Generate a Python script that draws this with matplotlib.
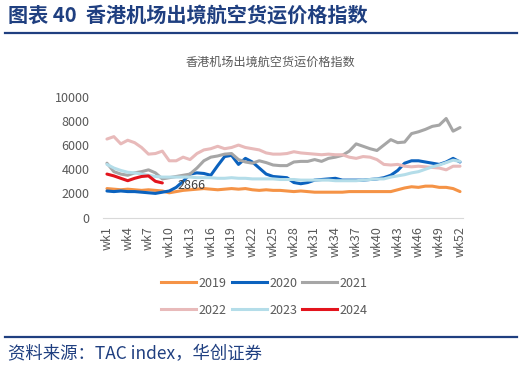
import matplotlib
matplotlib.use("Agg")
import matplotlib.pyplot as plt
from matplotlib.lines import Line2D

plt.rcParams["font.family"] = ["Noto Sans CJK SC", "DejaVu Sans"]

################# data #########################
weeks = [f"wk{i}" for i in range(1, 53)]
tick_weeks = list(range(1, 53, 3))

y2019 = [2400, 2350, 2300, 2350, 2300, 2250, 2300, 2250, 2200, 2050,
         2150, 2250, 2300, 2350, 2400, 2350, 2300, 2350, 2400, 2350,
         2400, 2300, 2250, 2300, 2250, 2250, 2200, 2150, 2200, 2150,
         2100, 2100, 2100, 2100, 2100, 2150, 2150, 2150, 2150, 2150,
         2150, 2150, 2300, 2450, 2550, 2500, 2600, 2600, 2500, 2500,
         2400, 2150]
y2020 = [2200, 2150, 2200, 2150, 2150, 2100, 2050, 2000, 2100, 2200,
         2500, 3000, 3600, 3700, 3650, 3500, 4300, 5050, 5150, 4400,
         4900, 4600, 4100, 3600, 3400, 3350, 3300, 2900, 2800, 2900,
         3100, 3150, 3200, 3250, 3100, 3100, 3100, 3100, 3150, 3200,
         3300, 3500, 3900, 4500, 4700, 4700, 4600, 4500, 4400, 4600,
         4900, 4600]
y2021 = [4500, 3800, 3600, 3500, 3700, 3800, 3950, 3700, 3200, 3300,
         3400, 3500, 3600, 4100, 4700, 5000, 5100, 5250, 5300, 4800,
         4600, 4500, 4700, 4550, 4350, 4300, 4300, 4600, 4650, 4650,
         4800, 4650, 4900, 5000, 5150, 5500, 6100, 5900, 5700, 5550,
         6000, 6450, 6200, 6250, 6950, 7100, 7300, 7550, 7650, 8200,
         7150, 7450]
y2022 = [6500, 6700, 6100, 6400, 6200, 5800, 5250, 5300, 5500, 4700,
         4700, 5000, 4800, 5300, 5600, 5700, 5900, 5700, 5800, 6000,
         5800, 5700, 5600, 5350, 5250, 5250, 5300, 5450, 5350, 5300,
         5250, 5200, 5250, 5200, 5200, 5000, 4900, 5050, 5000, 4800,
         4400, 4350, 4400, 4250, 4200, 4250, 4200, 4150, 4100, 3950,
         4250, 4250]
y2023 = [4400, 4100, 3900, 3750, 3700, 3600, 3500, 3400, 3350, 3350,
         3350, 3350, 3350, 3300, 3300, 3300, 3250, 3250, 3300, 3250,
         3250, 3200, 3200, 3200, 3200, 3150, 3150, 3150, 3100, 3100,
         3100, 3100, 3100, 3050, 3050, 3050, 3050, 3100, 3150, 3200,
         3200, 3350, 3450, 3550, 3700, 3800, 4000, 4200, 4350, 4550,
         4750, 4650]
y2024 = [3600, 3450, 3250, 3050, 3250, 3400, 3450, 3000, 2866]

series = [
    ("2019", y2019, "#F59346"),
    ("2020", y2020, "#0B62BE"),
    ("2021", y2021, "#A6A6A6"),
    ("2022", y2022, "#E8BABA"),
    ("2023", y2023, "#B4DDE9"),
    ("2024", y2024, "#E3141D"),
]

navy = "#1F3F80"
tick_color = "#595959"

fig = plt.figure(figsize=(5.24, 3.70), dpi=100)
ax = fig.add_axes([0.1975, 0.412, 0.687, 0.3265])

x_all = list(range(1, 53))
for name, vals, col in series:
    ax.plot(x_all[:len(vals)], vals, color=col, linewidth=2.2,
            solid_capstyle="round", label=name)

# last value label for 2024
ax.annotate(f"{y2024[-1]}", xy=(len(y2024), y2024[-1]), xytext=(11, -2),
            textcoords="offset points", fontsize=9, color="#404040",
            va="center", ha="left")

ax.set_xlim(0.5, 52.5)
ax.set_ylim(0, 10000)
ax.set_yticks(range(0, 10001, 2000))
ax.set_xticks(tick_weeks)
ax.set_xticklabels([weeks[i - 1] for i in tick_weeks], rotation=90)
ax.tick_params(axis="both", length=0, labelsize=9, colors=tick_color)
ax.tick_params(axis="y", pad=10)
ax.tick_params(axis="x", pad=6)
for s in ["top", "right", "left"]:
    ax.spines[s].set_visible(False)
ax.spines["bottom"].set_color("#D9D9D9")

# chart title
fig.text(0.517, 0.832, "香港机场出境航空货运价格指数", ha="center", va="center",
         fontsize=8.7, color=tick_color)

# legend, row order 2019 2020 2021 / 2022 2023 2024
handles = {name: Line2D([0], [0], color=col, linewidth=2.2) for name, _, col in series}
order = ["2019", "2022", "2020", "2023", "2021", "2024"]
fig.legend([handles[k] for k in order], order, loc="center",
           bbox_to_anchor=(0.505, 0.198), ncol=3, frameon=False, fontsize=9,
           handlelength=2.8, handletextpad=0.2, columnspacing=0.4,
           labelspacing=1.1, labelcolor=tick_color)

# header and footer
fig.text(0.015, 0.958, "图表 40  香港机场出境航空货运价格指数", ha="left",
         va="center", fontsize=14.5, fontweight="bold", color=navy)
fig.add_artist(Line2D([0.01, 0.987], [0.911, 0.911], color=navy, linewidth=1.6))
fig.add_artist(Line2D([0.01, 0.987], [0.09, 0.09], color=navy, linewidth=1.6))
fig.text(0.015, 0.042, "资料来源：TAC index，华创证券", ha="left", va="center",
         fontsize=12.5, style="italic", color=navy)

plt.savefig("out.png", dpi=100)
